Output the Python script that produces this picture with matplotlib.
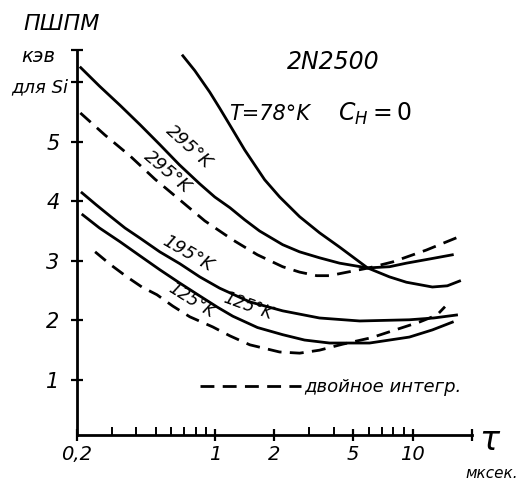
import matplotlib
matplotlib.use("Agg")
import matplotlib.pyplot as plt
from matplotlib.lines import Line2D
from matplotlib.ticker import FixedLocator, NullFormatter

# DATA
x295 = [0.209, 0.260, 0.330, 0.418, 0.525, 0.660, 0.837, 0.997, 1.19, 1.41,
        1.68, 2.20, 2.68, 3.38, 4.27, 5.92, 7.64, 9.31, 12.2, 15.9]
y295 = [6.24, 5.93, 5.61, 5.28, 4.95, 4.61, 4.29, 4.07, 3.89, 3.69,
        3.50, 3.27, 3.15, 3.05, 2.96, 2.88, 2.90, 2.96, 3.03, 3.10]

x295d = [0.208, 0.277, 0.371, 0.496, 0.664, 0.887, 1.23, 1.64, 2.20, 2.68,
         3.27, 3.80, 4.52, 6.0, 7.92, 11.75, 17.7]
y295d = [5.48, 5.11, 4.76, 4.37, 4.02, 3.67, 3.35, 3.10, 2.90, 2.81,
         2.75, 2.75, 2.80, 2.88, 2.98, 3.18, 3.42]

x78 = [0.687, 0.790, 0.940, 1.056, 1.187, 1.413, 1.587, 1.783, 2.125, 2.68,
       3.38, 4.27, 5.92, 7.64, 9.31, 12.6, 15.0, 17.3]
y78 = [6.44, 6.19, 5.83, 5.56, 5.28, 4.86, 4.61, 4.36, 4.07, 3.74,
       3.47, 3.23, 2.88, 2.73, 2.64, 2.56, 2.58, 2.66]

x195 = [0.212, 0.250, 0.294, 0.350, 0.417, 0.525, 0.664, 0.837, 1.056, 1.50,
        2.20, 3.38, 5.40, 9.64, 12.8, 16.7]
y195 = [4.14, 3.94, 3.75, 3.55, 3.38, 3.15, 2.95, 2.73, 2.54, 2.31,
        2.16, 2.04, 1.99, 2.01, 2.04, 2.09]

x125 = [0.214, 0.260, 0.330, 0.418, 0.525, 0.660, 0.837, 1.03, 1.23, 1.64, 2.20,
        2.84, 3.80, 6.06, 9.64, 12.6, 15.9]
y125 = [3.77, 3.55, 3.32, 3.08, 2.85, 2.63, 2.41, 2.22, 2.07, 1.88, 1.76,
        1.67, 1.62, 1.62, 1.72, 1.84, 1.97]

x125d = [0.247, 0.297, 0.358, 0.426, 0.508, 0.611, 0.745, 0.974, 1.19, 1.50,
         2.12, 2.68, 3.38, 4.42, 6.2, 8.53, 10.8, 13.3, 14.6]
y125d = [3.15, 2.93, 2.73, 2.56, 2.43, 2.24, 2.06, 1.89, 1.74, 1.59,
         1.47, 1.45, 1.50, 1.60, 1.71, 1.86, 1.97, 2.09, 2.23]

x_major = [0.2, 1, 2, 5, 10, 20]
x_labels = ["0,2", "1", "2", "5", "10", ""]
x_minor = [0.3, 0.4, 0.5, 0.6, 0.7, 0.8, 0.9, 3, 4, 6, 7, 8, 9]
y_ticks = [1, 2, 3, 4, 5, 6, 6.537]
y_labels = ["1", "2", "3", "4", "5", "", ""]

LW = 2.0
DASH = (5, 3)
IT = dict(style="italic", color="black")

fig = plt.figure(figsize=(5.22, 4.87), dpi=100)
ax = fig.add_axes([0.1475, 0.1068, 0.7567, 0.7906])

ax.plot(x295, y295, color="black", lw=LW)
ax.plot(x295d, y295d, color="black", lw=LW, dashes=DASH)
ax.plot(x78, y78, color="black", lw=LW)
ax.plot(x195, y195, color="black", lw=LW)
ax.plot(x125, y125, color="black", lw=LW)
ax.plot(x125d, y125d, color="black", lw=LW, dashes=DASH)

ax.set_xscale("log")
ax.set_xlim(0.2, 20)
ax.set_ylim(0.077, 6.537)

for s in ["top", "right"]:
    ax.spines[s].set_visible(False)
for s in ["left", "bottom"]:
    ax.spines[s].set_linewidth(2.0)

ax.xaxis.set_major_locator(FixedLocator(x_major))
ax.xaxis.set_minor_locator(FixedLocator(x_minor))
ax.xaxis.set_minor_formatter(NullFormatter())
ax.set_xticklabels(x_labels, fontsize=14, **IT)
ax.set_yticks(y_ticks)
ax.set_yticklabels(y_labels, fontsize=15, **IT)
ax.tick_params(axis="x", which="major", direction="inout", length=9, width=1.6, pad=3)
ax.tick_params(axis="x", which="minor", direction="in", length=6, width=1.4)
ax.tick_params(axis="y", direction="inout", length=9, width=1.6, pad=8)

# curve labels
ax.text(0.74, 4.92, "295°K", rotation=-42, ha="center", va="center", fontsize=13, **IT)
ax.text(0.575, 4.49, "295°K", rotation=-40, ha="center", va="center", fontsize=13, **IT)
ax.text(0.73, 3.12, "195°K", rotation=-30, ha="center", va="center", fontsize=13, **IT)
ax.text(1.46, 2.24, "125°K", rotation=-20, ha="center", va="center", fontsize=12, **IT)
ax.text(0.76, 2.34, "125°K", rotation=-32, ha="center", va="center", fontsize=12, **IT)

# titles / annotations
fig.text(62 / 522, 1 - 24 / 487, "ПШПМ", ha="center", va="center", fontsize=16, **IT)
fig.text(38 / 522, 1 - 56 / 487, "кэв", ha="center", va="center", fontsize=14, **IT)
fig.text(40 / 522, 1 - 87 / 487, "для Si", ha="center", va="center", fontsize=13, **IT)
fig.text(333 / 522, 1 - 62 / 487, "2N2500", ha="center", va="center", fontsize=17, **IT)
fig.text(270 / 522, 1 - 114 / 487, "T=78°K", ha="center", va="center", fontsize=15, **IT)
fig.text(375 / 522, 1 - 114 / 487, r"$C_H=0$", ha="center", va="center", fontsize=17)
fig.text(490 / 522, 1 - 441 / 487, r"$\tau$", ha="center", va="center", fontsize=24)
fig.text(492 / 522, 1 - 474 / 487, "мксек.", ha="center", va="center", fontsize=11, **IT)

handle = Line2D([], [], color="black", lw=LW, dashes=DASH)
ax.legend([handle], ["двойное интегр."], loc="center left",
          bbox_to_anchor=(0.311, 0.125), frameon=False, borderpad=0,
          borderaxespad=0, handlelength=5.6, handletextpad=0.2,
          prop=dict(size=13, style="italic"))

plt.savefig("out.png", dpi=100)
plt.close()
